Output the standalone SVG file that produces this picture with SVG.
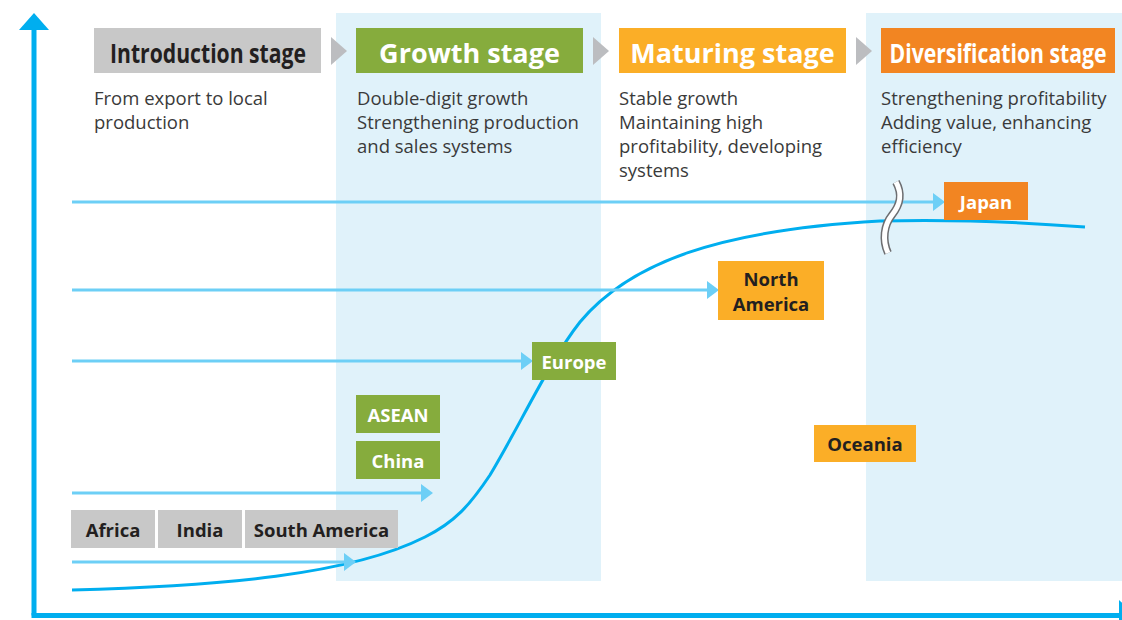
<svg xmlns="http://www.w3.org/2000/svg" width="1122" height="620" viewBox="0 0 1122 620">
<defs>
<style>
.hd{font-family:"Open Sans","Liberation Sans",sans-serif;font-weight:700;font-size:27px;text-anchor:middle}
.ds{font-family:"Open Sans","Liberation Sans",sans-serif;font-size:18.5px;fill:#3a3a3a}
.lb{font-family:"Open Sans","Liberation Sans",sans-serif;font-weight:700;font-size:18.5px;text-anchor:middle}
.dk{fill:#231f20}
.wt{fill:#ffffff}
.arr{stroke:#6dcff6;stroke-width:3;fill:none}
.ah{fill:#6dcff6}
.chev{fill:#bcbdc0}
.gray{fill:#c8c8c8}
.green{fill:#86ac3d}
.yel{fill:#fbae27}
.org{fill:#f28522}
.panel{fill:#e0f2fa}
</style>
</defs>
<rect width="1122" height="620" fill="#ffffff"/>
<g id="panels">
<rect class="panel" x="336" y="13" width="265" height="568"/>
<rect class="panel" x="866" y="13" width="256" height="568"/>
</g>
<g id="axes">
<line x1="34" y1="28" x2="34" y2="615.5" stroke="#00aeef" stroke-width="5"/>
<line x1="31.5" y1="615.5" x2="1122" y2="615.5" stroke="#00aeef" stroke-width="5"/>
<polygon points="34,13 49,30 19,30" fill="#00aeef"/>
<polygon points="1119,600 1136,615.5 1119,631" fill="#00aeef"/>
</g>
<g id="stage-introduction">
<rect class="gray" x="94" y="28" width="227" height="45"/>
<text class="hd dk" x="208" y="63" textLength="196" lengthAdjust="spacingAndGlyphs">Introduction stage</text>
<text class="ds" x="94" y="105">From export to local</text>
<text class="ds" x="94" y="129">production</text>
</g>
<g id="stage-growth">
<rect class="green" x="356" y="28" width="227" height="45"/>
<text class="hd wt" x="469.5" y="63">Growth stage</text>
<text class="ds" x="357" y="105">Double-digit growth</text>
<text class="ds" x="357" y="129">Strengthening production</text>
<text class="ds" x="357" y="153">and sales systems</text>
</g>
<g id="stage-maturing">
<rect class="yel" x="619" y="28" width="227" height="45"/>
<text class="hd wt" x="732.5" y="63">Maturing stage</text>
<text class="ds" x="619" y="105">Stable growth</text>
<text class="ds" x="619" y="129">Maintaining high</text>
<text class="ds" x="619" y="153">profitability, developing</text>
<text class="ds" x="619" y="177">systems</text>
</g>
<g id="stage-diversification">
<rect class="org" x="881" y="28" width="234" height="45"/>
<text class="hd wt" x="998" y="63" textLength="217" lengthAdjust="spacingAndGlyphs">Diversification stage</text>
<text class="ds" x="881" y="105">Strengthening profitability</text>
<text class="ds" x="881" y="129">Adding value, enhancing</text>
<text class="ds" x="881" y="153">efficiency</text>
</g>
<g id="connectors">
<polygon class="chev" points="331,37 347,51 331,65"/>
<polygon class="chev" points="593,37 609,51 593,65"/>
<polygon class="chev" points="856,37 872,51 856,65"/>
<path d="M72,590 C220,586 350,575 425,537 C455,522 470,505 490,475 C520,425 550,360 580,322 C630,262 720,230 880,221 C950,219 1020,222 1085,227" fill="none" stroke="#00aeef" stroke-width="3"/>
<line class="arr" x1="72" y1="202" x2="934" y2="202"/>
<polygon class="ah" points="933,193 945,202 933,211"/>
<line class="arr" x1="72" y1="290" x2="708" y2="290"/>
<polygon class="ah" points="707,281 719,290 707,299"/>
<line class="arr" x1="72" y1="361" x2="522" y2="361"/>
<polygon class="ah" points="521,352 533,361 521,370"/>
<line class="arr" x1="72" y1="493" x2="422" y2="493"/>
<polygon class="ah" points="421,484 433,493 421,502"/>
<line class="arr" x1="72" y1="562" x2="345" y2="562"/>
<polygon class="ah" points="344,553 356,562 344,571"/>
<path d="M896,182 C903,195 900,205 892,215 C884,225 882,240 888,253" fill="none" stroke="#6d6e71" stroke-width="8"/>
<path d="M896,182 C903,195 900,205 892,215 C884,225 882,240 888,253" fill="none" stroke="#ffffff" stroke-width="5"/>
</g>
<g id="node-japan">
<rect class="org" x="944" y="182" width="84" height="38"/>
<text class="lb wt" x="986" y="209">Japan</text>
</g>
<g id="node-north-america">
<rect class="yel" x="718" y="261" width="106" height="59"/>
<text class="lb dk" x="771" y="286">North</text>
<text class="lb dk" x="771" y="311">America</text>
</g>
<g id="node-europe">
<rect class="green" x="532" y="342" width="84" height="38"/>
<text class="lb wt" x="574" y="369">Europe</text>
</g>
<g id="node-asean">
<rect class="green" x="356" y="395" width="84" height="38"/>
<text class="lb wt" x="398" y="422">ASEAN</text>
</g>
<g id="node-china">
<rect class="green" x="356" y="441" width="84" height="38"/>
<text class="lb wt" x="398" y="468">China</text>
</g>
<g id="node-oceania">
<rect class="yel" x="814" y="425" width="102" height="37"/>
<text class="lb dk" x="865" y="451">Oceania</text>
</g>
<g id="node-africa">
<rect class="gray" x="71" y="510" width="84" height="38"/>
<text class="lb dk" x="113" y="537">Africa</text>
</g>
<g id="node-india">
<rect class="gray" x="158" y="510" width="84" height="38"/>
<text class="lb dk" x="200" y="537">India</text>
</g>
<g id="node-south-america">
<rect class="gray" x="245" y="510" width="153" height="38"/>
<text class="lb dk" x="321.5" y="537">South America</text>
</g>
</svg>
